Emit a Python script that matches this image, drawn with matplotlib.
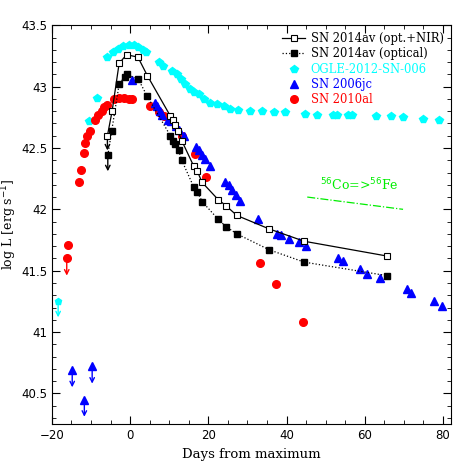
import numpy as np
import matplotlib
matplotlib.use('Agg')
import matplotlib.pyplot as plt

# SN 2014av (opt.+NIR) - open squares, solid line
nir_x = [-5.8, -4.6, -2.8, -0.9, 2.0, 4.4, 10.3, 10.9, 11.5, 12.2, 13.2, 16.3, 17.2, 18.4,
         22.5, 24.5, 27.3, 35.6, 44.5, 65.6]
nir_y = [42.60, 42.80, 43.19, 43.26, 43.24, 43.09, 42.76, 42.73, 42.69, 42.64, 42.56, 42.35,
         42.31, 42.22, 42.08, 42.03, 41.95, 41.84, 41.74, 41.62]

# SN 2014av (optical) - filled squares, dotted line
opt_x = [-5.7, -4.7, -2.8, -1.4, -0.8, 2.1, 4.4, 10.3, 10.9, 11.6, 12.4, 13.2, 16.3, 17.2,
         18.5, 22.5, 24.5, 27.3, 35.6, 44.5, 65.6]
opt_y = [42.44, 42.64, 43.02, 43.08, 43.10, 43.06, 42.92, 42.60, 42.56, 42.53, 42.48, 42.40,
         42.18, 42.14, 42.06, 41.92, 41.86, 41.80, 41.67, 41.57, 41.46]

# OGLE-2012-SN-006
ogle_x = [-10.4, -8.4, -5.8, -4.3, -3.0, -1.7, -0.4, 0.9, 2.1, 3.3, 4.0, 7.5, 8.5, 10.6, 12.0,
          13.1, 14.1, 15.4, 16.4, 17.7, 19.0, 20.5, 22.2, 23.9, 25.6, 27.5, 30.6, 33.8, 36.7,
          39.7, 44.7, 47.7, 51.9, 52.9, 55.7, 56.8, 62.8, 66.8, 69.8, 74.8, 78.9]
ogle_y = [42.72, 42.91, 43.24, 43.28, 43.31, 43.33, 43.34, 43.34, 43.32, 43.30, 43.28, 43.20,
          43.17, 43.13, 43.10, 43.06, 43.02, 42.98, 42.96, 42.94, 42.90, 42.87, 42.86, 42.84,
          42.82, 42.81, 42.80, 42.80, 42.79, 42.79, 42.78, 42.77, 42.77, 42.77, 42.77, 42.77,
          42.76, 42.76, 42.75, 42.74, 42.73]

# SN 2006jc
jc_x = [0.4, 6.4, 7.0, 7.7, 8.1, 9.6, 10.4, 11.7, 12.6, 13.8, 16.8, 17.5, 18.3, 19.1, 20.5,
        24.2, 25.2, 26.1, 27.1, 28.2, 32.7, 37.6, 38.5, 40.6, 43.3, 44.9, 53.2, 54.5, 58.7,
        60.7, 63.9, 70.9, 71.8, 77.8, 79.7]
jc_y = [43.05, 42.87, 42.84, 42.80, 42.77, 42.73, 42.72, 42.68, 42.65, 42.60, 42.51, 42.48,
        42.44, 42.41, 42.35, 42.22, 42.20, 42.16, 42.12, 42.07, 41.92, 41.80, 41.79, 41.76,
        41.73, 41.70, 41.60, 41.58, 41.51, 41.47, 41.44, 41.35, 41.32, 41.25, 41.21]

# SN 2010al
al_x = [-15.8, -13.0, -12.6, -11.9, -11.5, -10.9, -10.2, -9.1, -8.2, -7.3, -6.8, -6.0, -4.2,
        -2.9, -1.6, -0.2, 0.5, 5.1, 7.3, 8.7, 13.2, 16.7, 19.3, 33.3, 37.2, 44.3]
al_y = [41.71, 42.22, 42.32, 42.46, 42.54, 42.60, 42.64, 42.73, 42.77, 42.80, 42.83, 42.85,
        42.90, 42.91, 42.91, 42.90, 42.90, 42.84, 42.79, 42.76, 42.60, 42.45, 42.26, 41.56,
        41.39, 41.08]

# upper limits
nir_lim = ([-5.8], [42.60])
opt_lim = ([-5.7], [42.44])
ogle_lim = ([-18.4], [41.25])
jc_lim = ([-14.8, -11.7, -9.7], [40.69, 40.45, 40.72])
al_lim = ([-16.2], [41.60])

# 56Co -> 56Fe decay slope
co_x = [45.3, 69.8]
co_y = [42.10, 42.00]

CYAN = '#00ffff'
BLUE = '#0000ff'
RED = '#ff0000'
GREEN = '#00ee00'

fig = plt.figure(figsize=(4.76, 4.76), dpi=100)
ax = fig.add_axes([0.109, 0.109, 0.838, 0.838])


def limits(ax, xs, ys, color, marker=None, ms=6, dy=0.13):
    for x, y in zip(xs, ys):
        ax.annotate('', xy=(x, y - dy), xytext=(x, y),
                    arrowprops=dict(arrowstyle='->', color=color, lw=1.0,
                                    shrinkA=0, shrinkB=0, mutation_scale=8))
        if marker:
            ax.plot(x, y, marker=marker, color=color, ms=ms, ls='none', zorder=5)


ax.plot(ogle_x, ogle_y, 'p', color=CYAN, ms=5.5, ls='none', zorder=3,
        label='OGLE-2012-SN-006')
ax.plot(jc_x, jc_y, '^', color=BLUE, ms=5.5, ls='none', zorder=4, label='SN 2006jc')
ax.plot(al_x, al_y, 'o', color=RED, ms=5.5, ls='none', zorder=3, label='SN 2010al')
ax.plot(opt_x, opt_y, color='k', ls=':', lw=0.9, marker='s', ms=4.5, zorder=6,
        label='SN 2014av (optical)')
ax.plot(nir_x, nir_y, color='k', ls='-', lw=0.9, marker='s', ms=3.8, mfc='white',
        mec='k', mew=0.8, zorder=7, label='SN 2014av (opt.+NIR)')

limits(ax, *nir_lim, 'k', dy=0.12)
limits(ax, *opt_lim, 'k', dy=0.13)
limits(ax, *ogle_lim, CYAN, marker='p', ms=5)
limits(ax, *jc_lim, BLUE, marker='^', ms=5.5, dy=0.14)
limits(ax, *al_lim, RED, marker='o', ms=5.5, dy=0.14)

ax.plot(co_x, co_y, color=GREEN, ls='-.', lw=0.9)
ax.text(58.7, 42.2, r'$^{56}$Co=>$^{56}$Fe', color=GREEN, ha='center', va='center',
        fontsize=9, family='DejaVu Serif')

ax.set_xlim(-20, 82)
ax.set_ylim(40.25, 43.5)
ax.set_xticks([-20, 0, 20, 40, 60, 80])
ax.set_yticks([40.5, 41, 41.5, 42, 42.5, 43, 43.5])
ax.set_yticklabels(['40.5', '41', '41.5', '42', '42.5', '43', '43.5'])
ax.set_xticks(np.arange(-20, 82, 5), minor=True)
ax.set_yticks(np.arange(40.3, 43.5, 0.1), minor=True)
ax.tick_params(which='both', direction='in', top=True, right=True, labelsize=8.5)
ax.tick_params(which='major', length=6)
ax.tick_params(which='minor', length=3)

ax.set_xlabel('Days from maximum', family='DejaVu Serif', fontsize=9.5)
ax.set_ylabel(r'log L [erg s$^{-1}$]', family='DejaVu Serif', fontsize=9)
ax.yaxis.set_label_coords(-0.082, 0.5)

handles, labels = ax.get_legend_handles_labels()
order = [4, 3, 0, 1, 2]
leg = ax.legend([handles[i] for i in order], [labels[i] for i in order],
                loc='upper right', frameon=False,
                prop={'family': 'DejaVu Serif', 'size': 8.3},
                labelcolor=['k', 'k', CYAN, BLUE, RED], handlelength=2.0,
                handletextpad=0.5, labelspacing=0.2, borderaxespad=0.2)

fig.savefig('out.png', dpi=100)
